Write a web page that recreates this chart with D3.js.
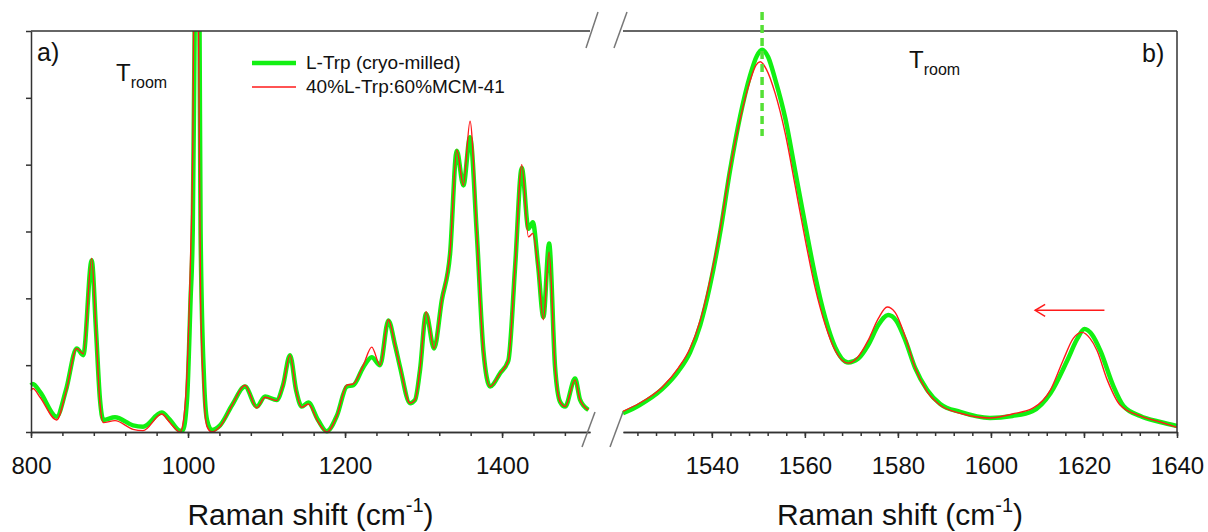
<!DOCTYPE html>
<html>
<head>
<meta charset="utf-8">
<script src="https://cdn.jsdelivr.net/npm/d3@7"></script>
<style>
body{margin:0;background:#fff;}
svg{display:block;font-family:"Liberation Sans",Arial,sans-serif;}
</style>
</head>
<body>
<div id="chart"></div>
<script>
// panel a) : 800 - 1512 cm-1, shared x for both spectra
var leftX = [800, 802.5, 811.5, 832.7, 844.6, 858.2, 866.6, 877.3, 882.8, 887.9, 892.1, 907, 929.9, 942.7, 966.5, 977, 989.8, 993.2, 998.7, 1003.2, 1006, 1008.6, 1011.8, 1014.6, 1016, 1020.4, 1024.2, 1030.2, 1040.8, 1056, 1072.6, 1087.5, 1098.1, 1113, 1121, 1129.9, 1137.6, 1144.8, 1153.2, 1165.6, 1176.7, 1189.8, 1202.2, 1210.6, 1223.3, 1234, 1244.6, 1255.2, 1263.7, 1270.1, 1282.8, 1289.2, 1295.5, 1303.2, 1313.4, 1323.2, 1333.8, 1342.3, 1350.7, 1359.2, 1367.8, 1376.2, 1384.7, 1397.5, 1408, 1416.6, 1425.1, 1433.6, 1439.1, 1445.9, 1452.6, 1459.9, 1467.5, 1473.9, 1480.3, 1493, 1499.4, 1510];
var leftGreen = [0.70, 0.72, 0.60, 0.23, 0.63, 1.25, 1.15, 2.57, 1.52, 0.48, 0.18, 0.22, 0.10, 0.08, 0.29, 0.18, 0.02, 0.02, 0.48, 1.97, 3.01, 6.2, 9, 6.2, 3.0, 0.78, 0.18, 0.03, 0.10, 0.40, 0.68, 0.38, 0.53, 0.48, 0.70, 1.15, 0.63, 0.38, 0.44, 0.18, 0.01, 0.25, 0.68, 0.70, 0.97, 1.12, 1.00, 1.67, 1.30, 0.97, 0.43, 0.48, 0.93, 1.77, 1.25, 1.97, 2.67, 4.21, 3.69, 4.41, 2.97, 1.22, 0.68, 0.88, 1.07, 2.47, 3.95, 3.04, 3.14, 2.49, 1.72, 2.82, 0.97, 0.45, 0.38, 0.80, 0.48, 0.33];
var leftRed = [0.62, 0.65, 0.52, 0.18, 0.60, 1.25, 1.17, 2.60, 1.50, 0.42, 0.14, 0.17, 0.04, 0.02, 0.27, 0.14, 0.0, 0.10, 0.90, 2.60, 4.20, 8.0, 8.0, 4.0, 2.0, 0.50, 0.08, 0.0, 0.08, 0.40, 0.70, 0.36, 0.52, 0.47, 0.70, 1.15, 0.62, 0.37, 0.42, 0.15, 0.0, 0.25, 0.70, 0.72, 1.0, 1.27, 1.0, 1.68, 1.30, 0.97, 0.43, 0.48, 0.95, 1.80, 1.25, 1.97, 2.70, 4.22, 3.69, 4.65, 2.97, 1.20, 0.68, 0.88, 1.07, 2.50, 4.00, 2.92, 2.97, 2.45, 1.68, 2.69, 0.97, 0.45, 0.38, 0.78, 0.48, 0.33];

// panel b) : 1521 - 1640 cm-1
var rightGreenX = [1520.9, 1524.4, 1529.3, 1532.8, 1535.3, 1537.5, 1539.6, 1541.8, 1543.9, 1546.1, 1548.2, 1549.7, 1550.8, 1552.1, 1553.6, 1555.8, 1557.9, 1560.1, 1562.2, 1564.4, 1566.5, 1569.3, 1571.5, 1573.6, 1575.8, 1577.9, 1579.6, 1581.6, 1583.7, 1586.3, 1589.1, 1593.4, 1599.8, 1604.6, 1608.9, 1612.8, 1616.4, 1618.6, 1620.1, 1621.8, 1623.5, 1626.3, 1628.5, 1632.1, 1636.4, 1640.0];
var rightGreenY = [0.28, 0.40, 0.64, 0.91, 1.19, 1.60, 2.19, 2.99, 3.91, 4.73, 5.33, 5.63, 5.72, 5.61, 5.28, 4.69, 3.91, 3.09, 2.34, 1.70, 1.27, 1.04, 1.10, 1.30, 1.60, 1.75, 1.67, 1.37, 0.96, 0.63, 0.42, 0.30, 0.21, 0.24, 0.31, 0.58, 1.07, 1.40, 1.54, 1.45, 1.22, 0.69, 0.39, 0.24, 0.15, 0.09];
var rightRedX = [1520.9, 1524.4, 1529.3, 1532.8, 1535.3, 1537.5, 1539.6, 1541.8, 1543.9, 1546.1, 1548.2, 1549.5, 1550.4, 1551.7, 1553.6, 1555.8, 1557.9, 1560.1, 1562.2, 1564.4, 1566.5, 1569.3, 1571.5, 1573.6, 1575.8, 1577.7, 1579.4, 1581.6, 1583.7, 1586.3, 1589.1, 1593.4, 1599.8, 1604.6, 1609.1, 1612.8, 1615.5, 1617.7, 1619.6, 1621.3, 1622.8, 1625.0, 1627.8, 1632.1, 1636.4, 1640.0];
var rightRedY = [0.31, 0.43, 0.67, 0.96, 1.25, 1.67, 2.27, 3.04, 3.94, 4.69, 5.25, 5.49, 5.54, 5.43, 5.07, 4.46, 3.69, 2.87, 2.16, 1.60, 1.22, 1.03, 1.13, 1.37, 1.70, 1.87, 1.79, 1.42, 0.96, 0.60, 0.40, 0.28, 0.21, 0.27, 0.36, 0.63, 1.07, 1.40, 1.49, 1.40, 1.22, 0.78, 0.40, 0.24, 0.15, 0.07];

var leftMajor = [800, 1000, 1200, 1400];
var leftMinor = d3.range(800, 1512, 40);
var rightMajor = [1540, 1560, 1580, 1600, 1620, 1640];
var rightMinor = d3.range(1524, 1641, 4);
var yTicks = [0, 1, 2, 3, 4, 5, 6];

var seriesNames = ["L-Trp (cryo-milled)", "40%L-Trp:60%MCM-41"];
var peakMark = 1550.8;   // dashed line position
var shiftArrow = [1624.4, 1609.5, 1.82];

var GREEN = "#12f012", RED = "#ff1a1a", AXIS = "#333";

var W = 1208, H = 532;
var svg = d3.select("#chart").append("svg").attr("width", W).attr("height", H);

var xL = d3.scaleLinear().domain([800, 1512]).range([31, 590]);
var xR = d3.scaleLinear().domain([1520.9, 1640]).range([623, 1177]);
var y = d3.scaleLinear().domain([0, 6]).range([432, 31]);

var defs = svg.append("defs");
defs.append("clipPath").attr("id", "clipL").append("rect")
    .attr("x", 25).attr("y", 31).attr("width", 570).attr("height", 410);
defs.append("clipPath").attr("id", "clipR").append("rect")
    .attr("x", 615).attr("y", 20).attr("width", 568).attr("height", 420);

function zip(xs, ys){ return xs.map(function(d, i){ return [d, ys[i]]; }); }

function lineFor(xs){
    return d3.line().x(function(d){ return xs(d[0]); }).y(function(d){ return y(d[1]); })
        .curve(d3.curveMonotoneX);
}

var gL = svg.append("g").attr("clip-path", "url(#clipL)");
gL.append("path").datum(zip(leftX, leftGreen)).attr("d", lineFor(xL))
    .attr("fill", "none").attr("stroke", GREEN).attr("stroke-width", 4.5).attr("stroke-linejoin", "round");
gL.append("path").datum(zip(leftX, leftRed)).attr("d", lineFor(xL))
    .attr("fill", "none").attr("stroke", RED).attr("stroke-width", 1.4).attr("stroke-linejoin", "round");

var gR = svg.append("g").attr("clip-path", "url(#clipR)");
gR.append("path").datum(zip(rightGreenX, rightGreenY)).attr("d", lineFor(xR))
    .attr("fill", "none").attr("stroke", GREEN).attr("stroke-width", 4.5).attr("stroke-linejoin", "round");
gR.append("path").datum(zip(rightRedX, rightRedY)).attr("d", lineFor(xR))
    .attr("fill", "none").attr("stroke", RED).attr("stroke-width", 1.4).attr("stroke-linejoin", "round");

// axes
function styleAxis(g){
    g.selectAll("path,line").attr("stroke", AXIS).attr("stroke-width", 1.5);
    g.selectAll("text").attr("fill", "#111").style("font-size", "24px")
        .style("font-family", "'Liberation Sans',Arial,sans-serif");
}

[[xL, leftMajor, leftMinor], [xR, rightMajor, rightMinor]].forEach(function(a){
    var minor = svg.append("g").attr("transform", "translate(0,432)")
        .call(d3.axisBottom(a[0]).tickValues(a[2]).tickSize(4).tickSizeOuter(0).tickFormat(""));
    styleAxis(minor);
    var major = svg.append("g").attr("transform", "translate(0,432)")
        .call(d3.axisBottom(a[0]).tickValues(a[1]).tickSize(6).tickSizeOuter(0).tickPadding(19).tickFormat(d3.format("d")));
    styleAxis(major);
});

var yAx = svg.append("g").attr("transform", "translate(31,0)")
    .call(d3.axisLeft(y).tickValues(yTicks).tickSize(5).tickSizeOuter(0).tickFormat(""));
styleAxis(yAx);

// frame pieces
svg.append("line").attr("x1", 31).attr("x2", 590).attr("y1", 31).attr("y2", 31)
    .attr("stroke", AXIS).attr("stroke-width", 1.5);
svg.append("line").attr("x1", 623).attr("x2", 1177).attr("y1", 31).attr("y2", 31)
    .attr("stroke", AXIS).attr("stroke-width", 1.5);
svg.append("line").attr("x1", 1177).attr("x2", 1177).attr("y1", 31).attr("y2", 432)
    .attr("stroke", AXIS).attr("stroke-width", 1.5);

// axis breaks
var breaks = [[598, 12, 586, 48], [627, 12, 614, 48], [595, 412, 582, 447], [623, 412, 610, 447]];
svg.selectAll("line.brk").data(breaks).enter().append("line").attr("class", "brk")
    .attr("x1", function(d){ return d[0]; }).attr("y1", function(d){ return d[1]; })
    .attr("x2", function(d){ return d[2]; }).attr("y2", function(d){ return d[3]; })
    .attr("stroke", "#777").attr("stroke-width", 1.5);

// axis titles
[xL, xR].forEach(function(s){
    var r = s.range();
    var t = svg.append("text").attr("x", (r[0] + r[1]) / 2).attr("y", 525)
        .attr("text-anchor", "middle").style("font-size", "30px").attr("fill", "#111");
    t.append("tspan").text("Raman shift (cm");
    t.append("tspan").attr("dy", -13).style("font-size", "20px").text("-1");
    t.append("tspan").attr("dy", 13).style("font-size", "30px").text(")");
});

// panel labels
svg.append("text").attr("x", 37).attr("y", 61).style("font-size", "25px").attr("fill", "#111").text("a)");
svg.append("text").attr("x", 1142).attr("y", 62).style("font-size", "25px").attr("fill", "#111").text("b)");

function troom(x0, y0){
    var t = svg.append("text").attr("x", x0).attr("y", y0).attr("fill", "#111").style("font-size", "24px");
    t.append("tspan").text("T");
    t.append("tspan").attr("dy", 7).style("font-size", "16px").text("room");
}
troom(116, 81);
troom(909, 68);

// legend
var legend = svg.append("g");
var leg = [{name: seriesNames[0], color: GREEN, w: 4.5, y: 63}, {name: seriesNames[1], color: RED, w: 1.4, y: 87}];
leg.forEach(function(d){
    legend.append("line").attr("x1", 252).attr("x2", 296).attr("y1", d.y).attr("y2", d.y)
        .attr("stroke", d.color).attr("stroke-width", d.w);
    legend.append("text").attr("x", 306).attr("y", d.y + 6).style("font-size", "19px").attr("fill", "#111").text(d.name);
});

// dashed marker at the main peak
svg.append("line").attr("x1", xR(peakMark)).attr("x2", xR(peakMark)).attr("y1", 12).attr("y2", 136)
    .attr("stroke", "#55e035").attr("stroke-width", 3.5).attr("stroke-dasharray", "8,5");

// red shift arrow
var ay = y(shiftArrow[2]), ax0 = xR(shiftArrow[0]), ax1 = xR(shiftArrow[1]);
svg.append("line").attr("x1", ax0).attr("x2", ax1).attr("y1", ay).attr("y2", ay)
    .attr("stroke", RED).attr("stroke-width", 1.5);
svg.append("path").attr("d", "M" + (ax1 + 10) + "," + (ay - 6) + "L" + ax1 + "," + ay + "L" + (ax1 + 10) + "," + (ay + 6))
    .attr("fill", "none").attr("stroke", RED).attr("stroke-width", 1.5);
</script>
</body>
</html>
